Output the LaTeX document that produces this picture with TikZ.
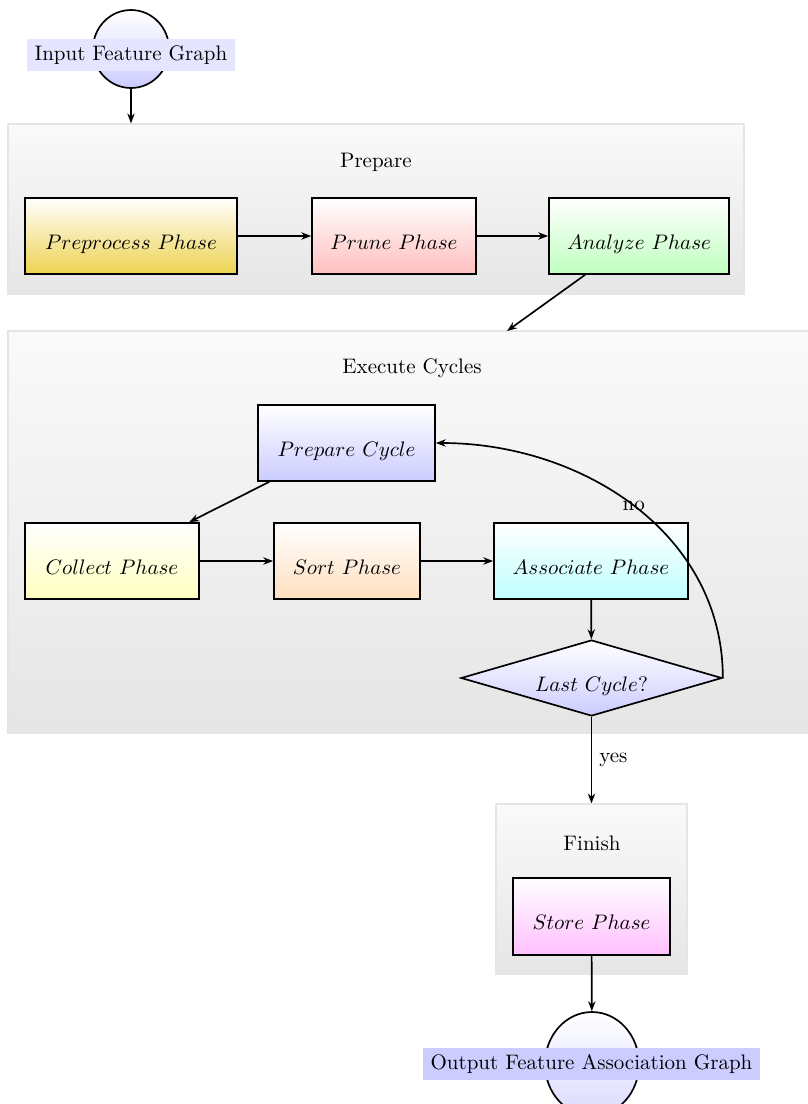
\documentclass[tikz,border=0pt]{standalone}
\usetikzlibrary{arrows.meta,shapes.geometric}
\definecolor{prepY}{RGB}{238,210,80}
\begin{document}
\begin{tikzpicture}[x=0.476pt,y=-0.476pt,
  size/.style 2 args={minimum width=#1*0.476pt, minimum height=#2*0.476pt},
  container/.style={rectangle, draw=gray!20, line width=0.6pt, top color=gray!4, bottom color=gray!20, inner sep=0pt},
  phase/.style={rectangle, draw=black, thick, inner sep=0pt, text height=12.5pt, text depth=0pt, top color=white},
  decision/.style={diamond, aspect=3.4, draw=black, thick, inner sep=0pt, text height=12.5pt, text depth=0pt, top color=white, bottom color=blue!20},
  io/.style={ellipse, draw=black, thick, top color=white, bottom color=blue!20, inner sep=0pt},
  iolabel/.style={inner xsep=3.6pt, inner ysep=3.7pt, text height=1.5ex, text depth=.25ex},
  flow/.style={thick, -{Stealth[length=4.7pt,width=3.5pt]}}
]
\useasboundingbox (0,0) rectangle (807,1104);

% group backgrounds
\node[container, size={736}{170}] (prep) at (376,209) {};
\node[container, size={804}{402}] (exec) at (410,532) {};
\node[container, size={191}{170}] (fin) at (591.5,889) {};
\node (prepT) at (376,162) {Prepare};
\node (execT) at (412,368) {Execute Cycles};
\node (finT) at (592,843) {Finish};

% input
\node[io, size={76}{78}] (inc) at (131,49) {};
\node[iolabel, fill=blue!10] (inlabel) at (131,55) {Input Feature Graph};

% prepare stage
\node[phase, size={212}{76}, bottom color=prepY] (pre) at (131,236) {$Preprocess\ Phase$};
\node[phase, size={164}{76}, bottom color=red!25] (prune) at (394,236) {$Prune\ Phase$};
\node[phase, size={180}{76}, bottom color=green!25] (ana) at (639,236) {$Analyze\ Phase$};

% cycle stage
\node[phase, size={177}{76}, bottom color=blue!20] (pcyc) at (346.5,443) {$Prepare\ Cycle$};
\node[phase, size={174}{76}, bottom color=yellow!25] (col) at (112,561) {$Collect\ Phase$};
\node[phase, size={146}{76}, bottom color=orange!25] (sort) at (347,561) {$Sort\ Phase$};
\node[phase, size={194}{76}, bottom color=cyan!25] (assoc) at (591,561) {$Associate\ Phase$};
\node[decision, size={261}{76}] (last) at (591.5,678) {$Last\ Cycle?$};

% finish stage
\node[phase, size={157}{77}, bottom color=magenta!25] (store) at (591.5,916.5) {$Store\ Phase$};

% output
\node[io, size={94}{104}, bottom color=blue!14] (outc) at (592,1064) {};
\node[iolabel, fill=blue!20] (outlabel) at (591.5,1064) {Output Feature Association Graph};

\coordinate (execin) at (507,331);

% connectors
\draw[flow] (inc) -- (inc |- prep.north);
\draw[flow] (pre) -- (prune);
\draw[flow] (prune) -- (ana);
\draw[flow] (ana) -- (execin);
\draw[flow] (pcyc) -- (col);
\draw[flow] (col) -- (sort);
\draw[flow] (sort) -- (assoc);
\draw[flow] (assoc) -- (last);
\draw[flow] (last.east) to[out=90,in=0] node[midway] {no} (pcyc.east);
\draw[flow] (last) -- node[midway,right] {yes} (last |- fin.north);
\draw[flow] (store) -- (outc);
\end{tikzpicture}
\end{document}
